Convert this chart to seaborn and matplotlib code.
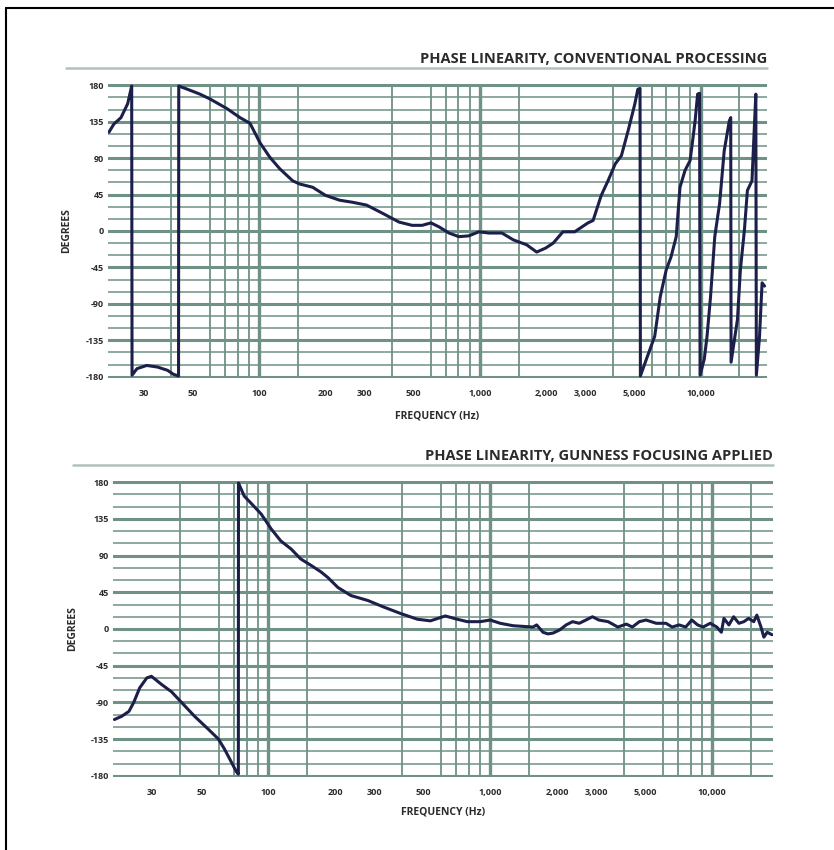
import numpy as np
import pandas as pd
import seaborn as sns
import matplotlib.pyplot as plt
from matplotlib.lines import Line2D
from matplotlib.ticker import NullFormatter

# phase response, conventional processing
convFreq = [20.9, 22, 23.7, 25.4, 26.2, 26.5, 26.6, 28, 31, 34.7, 38.5, 41, 43.2, 43.3,
            47.4, 54, 60, 71.7, 82, 91, 101, 112, 124, 142, 153, 175, 200, 232, 265, 307,
            362, 431, 494, 548, 601, 655, 725, 804, 892, 990, 1100, 1260, 1420, 1630, 1810,
            1990, 2150, 2380, 2690, 3090, 3260, 3550, 3810, 4110, 4380, 4700, 5040, 5200,
            5320, 5340, 5760, 6200, 6570, 6990, 7350, 7760, 8070, 8510, 8970, 9450, 9700,
            9900, 9950, 10400, 10700, 11100, 11600, 12200, 12800, 13500, 13700, 13750,
            14700, 15150, 15800, 16300, 17100, 17500, 17800, 17900, 18500, 19000, 19500]
convPhase = [122, 132, 140, 157, 173, 179, -178, -170, -166, -168, -172, -177, -179, 179,
             175, 169, 163, 151, 140, 133, 109, 91, 77, 62, 58, 54, 44, 38, 35.5, 32,
             22, 11, 7, 7, 10, 5, -2.5, -7, -6, -1, -2.5, -2.5, -11, -17, -26,
             -21, -15, -1, -1, 10, 13, 44, 62, 83, 93, 124, 157, 175,
             176, -179, -154, -130, -81, -48, -32, -7, 54, 75, 87, 136, 169,
             170, -178, -158, -130, -81, -7, 34, 99, 136, 140, -162,
             -109, -48, 1, 50, 62, 124, 169, -178, -130, -64, -68]

# phase response with Gunness focusing applied
gunFreq = [20.3, 21.9, 23.6, 24.8, 26.4, 28.4, 29.8, 33.1, 36.7, 40.7, 46.6, 53.8, 59.7,
           63.5, 68.2, 71.9, 73.4, 73.5, 78, 83.9, 93, 103, 114, 127, 140, 156, 173, 186,
           206, 236, 281, 331, 395, 470, 538, 628, 710, 789, 902, 1000, 1110, 1270, 1560,
           1620, 1730, 1820, 1920, 2060, 2200, 2350, 2520, 2700, 2890, 3090, 3400, 3760,
           4110, 4370, 4700, 5040, 5600, 6200, 6600, 7100, 7600, 8100, 8600, 9100, 9800,
           10500, 11000, 11300, 11900, 12500, 13200, 13900, 14600, 15400, 15900, 16600,
           17100, 17700, 18600]
gunPhase = [-111, -107, -101, -90, -72, -60, -58, -68, -77, -90, -107, -123, -135,
            -147, -163, -175, -178, 179, 163, 154, 141, 123, 108, 98, 86, 78, 70, 63,
            51, 41, 35, 27, 19, 12, 10, 16, 12, 9, 9, 11, 7, 4, 2.4,
            5, -4, -6, -5, -1, 5, 9, 7, 11, 15, 11, 9, 2.4,
            6, 2.4, 9, 11, 7, 7, 2.4, 5, 2.4, 11, 5, 2.4, 7,
            2.4, -4, 13, 5, 15, 7, 9, 13, 9, 17, 2.4,
            -10, -4, -7]

freqTicks = [30, 50, 100, 200, 300, 500, 1000, 2000, 3000, 5000, 10000]
freqLabels = ['30', '50', '100', '200', '300', '500', '1,000', '2,000', '3,000', '5,000', '10,000']
gridFreqs = [30, 40, 50, 60, 70, 80, 90, 150, 200, 300, 400, 500, 600, 700, 800, 900,
             1500, 2000, 3000, 4000, 5000, 6000, 7000, 8000, 9000, 15000]
decadeFreqs = [100, 1000, 10000]
degTicks = [-180, -135, -90, -45, 0, 45, 90, 135, 180]

convData = pd.DataFrame({'Freq': convFreq, 'Phase': convPhase})
gunData = pd.DataFrame({'Freq': gunFreq, 'Phase': gunPhase})

sns.set_style("white")
plt.rcParams['font.family'] = ['Open Sans', 'DejaVu Sans']

gridColor = '#6f9186'
lineColor = '#1c1f4a'
textColor = '#2b2b2b'

fig = plt.figure(figsize=(8.34, 8.5), dpi=100)
W, H = 834.0, 850.0


def px_axes(left, top, right, bottom):
    return fig.add_axes([left / W, 1 - bottom / H, (right - left) / W, (bottom - top) / H])


def style_axes(ax, xlims, ylab_x, xlab_y):
    ax.set_xscale('log')
    ax.set_xlim(*xlims)
    ax.set_ylim(-181.5, 181.5)
    ax.set_xticks(freqTicks)
    ax.set_xticklabels(freqLabels)
    ax.set_xticks(gridFreqs, minor=True)
    ax.xaxis.set_minor_formatter(NullFormatter())
    ax.set_yticks(degTicks)
    ax.set_yticklabels([str(d) for d in degTicks])
    ax.set_yticks(np.arange(-165, 180, 15), minor=True)
    ax.yaxis.set_minor_formatter(NullFormatter())
    ax.tick_params(which='both', length=0)
    ax.tick_params(axis='x', pad=8, labelsize=6.5, labelcolor=textColor)
    ax.tick_params(axis='y', pad=3, labelsize=6.5, labelcolor=textColor)
    for lbl in ax.get_xticklabels() + ax.get_yticklabels():
        lbl.set_fontweight('bold')
    ax.grid(False)
    ax.xaxis.grid(True, which='minor', color=gridColor, lw=1.3)
    ax.yaxis.grid(True, which='minor', color=gridColor, lw=1.3, alpha=0.85)
    ax.yaxis.grid(True, which='major', color=gridColor, lw=2.2)
    for f in decadeFreqs:
        ax.axvline(f, color=gridColor, lw=2.4, zorder=0.5)
    for s in ax.spines.values():
        s.set_visible(False)
    ax.set_axisbelow(True)
    ax.set_ylabel('DEGREES', fontsize=7.5, fontweight='bold', color=textColor)
    ax.yaxis.set_label_coords(ylab_x, 0.5)
    ax.set_xlabel('FREQUENCY (Hz)', fontsize=7.5, fontweight='bold', color=textColor)
    ax.xaxis.set_label_coords(0.5, xlab_y)


# top panel
ax1 = px_axes(108, 84, 767, 378)
sns.lineplot(data=convData, x='Freq', y='Phase', ax=ax1, sort=False, estimator=None,
             color=lineColor, lw=2.2)
style_axes(ax1, (20.7, 20000), -0.055, -0.11)

# bottom panel
ax2 = px_axes(113, 481, 773, 777)
sns.lineplot(data=gunData, x='Freq', y='Phase', ax=ax2, sort=False, estimator=None,
             color=lineColor, lw=2.2)
style_axes(ax2, (20, 18800), -0.053, -0.10)

# headers and rules
fig.text(767 / W, 1 - 59 / H, 'PHASE LINEARITY, CONVENTIONAL PROCESSING', ha='right', va='center',
         fontsize=10.5, fontweight='bold', color=textColor)
fig.add_artist(Line2D([66 / W, 767 / W], [1 - 68 / H, 1 - 68 / H], color='#b3c1bc', lw=1.8))
fig.text(773 / W, 1 - 456 / H, 'PHASE LINEARITY, GUNNESS FOCUSING APPLIED', ha='right', va='center',
         fontsize=10.5, fontweight='bold', color=textColor)
fig.add_artist(Line2D([73 / W, 773 / W], [1 - 465 / H, 1 - 465 / H], color='#b3c1bc', lw=1.8))

# frame (left and top edges)
fig.add_artist(Line2D([6 / W, 6 / W], [0, 1 - 8 / H], color='black', lw=1.5))
fig.add_artist(Line2D([6 / W, 1], [1 - 8 / H, 1 - 8 / H], color='black', lw=1.5))

plt.savefig('out.png', dpi=100)
